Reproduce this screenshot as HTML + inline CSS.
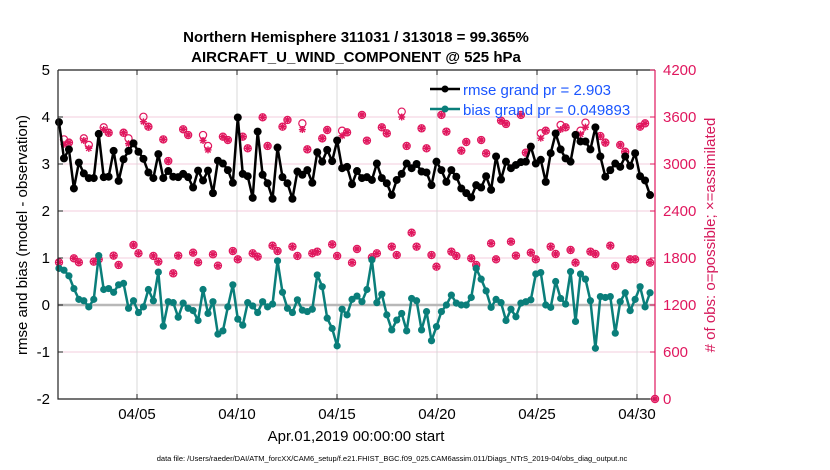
<!DOCTYPE html>
<html><head><meta charset="utf-8"><style>
body{margin:0;background:#fff;}
svg{display:block;font-family:"Liberation Sans",sans-serif;}
</style></head><body>
<svg id="chart" width="830" height="470" viewBox="0 0 830 470">
<text x="356" y="42" text-anchor="middle" font-size="15" font-weight="bold">Northern Hemisphere 311031 / 313018 = 99.365%</text>
<text x="356" y="62" text-anchor="middle" font-size="15" font-weight="bold">AIRCRAFT_U_WIND_COMPONENT @ 525 hPa</text>
<g id="grid"></g>
<g id="marks"></g>
<g id="axes"></g>
<text transform="translate(27,235) rotate(-90)" text-anchor="middle" font-size="15">rmse and bias (model - observation)</text>
<text transform="translate(715,235) rotate(-90)" text-anchor="middle" font-size="15" fill="#d6195b"># of obs: o=possible; ×=assimilated</text>
<text x="356" y="441" text-anchor="middle" font-size="15">Apr.01,2019 00:00:00 start</text>
<text x="392" y="461" text-anchor="middle" font-size="7.5">data file: /Users/raeder/DAI/ATM_forcXX/CAM6_setup/f.e21.FHIST_BGC.f09_025.CAM6assim.011/Diags_NTrS_2019-04/obs_diag_output.nc</text>
<g>
<line x1="430" y1="89" x2="460" y2="89" stroke="#000" stroke-width="2.5"/>
<circle cx="445" cy="89" r="3.5" fill="#000"/>
<text x="463" y="95" font-size="15" fill="#1a55ff">rmse grand pr = 2.903</text>
<line x1="430" y1="109" x2="460" y2="109" stroke="#0a7e7a" stroke-width="2.5"/>
<circle cx="445" cy="109" r="3.5" fill="#0a7e7a"/>
<text x="463" y="115" font-size="15" fill="#1a55ff">bias grand pr = 0.049893</text>
</g>
</svg>
<script>
const rmse=[3.89,3.12,3.31,2.48,3.03,2.80,2.70,2.70,3.64,2.72,2.73,3.28,2.64,3.10,3.28,3.44,3.26,3.11,2.82,2.70,3.21,2.70,2.85,2.73,2.72,2.79,2.72,2.50,2.86,2.65,
2.86,2.38,3.07,3.01,2.87,2.60,3.99,2.79,2.74,2.28,3.69,2.77,2.59,2.26,3.35,2.72,2.59,2.26,2.84,2.77,2.87,2.60,3.25,3.05,3.30,3.06,3.50,2.91,2.94,2.57,
2.85,2.70,2.72,2.66,3.01,2.70,2.59,2.34,2.66,2.79,3.01,2.91,3.00,2.84,2.82,2.55,3.05,2.87,2.62,2.87,2.73,2.48,2.38,2.29,2.55,2.50,2.74,2.45,3.16,2.67,
3.05,2.91,2.98,3.04,3.05,3.37,3.01,3.09,2.62,3.23,3.65,3.31,3.12,3.05,3.62,3.48,3.48,3.31,3.78,3.16,2.73,2.87,3.01,2.94,3.16,2.96,3.23,2.74,2.65,2.34];
const bias=[0.78,0.74,0.62,0.35,0.12,0.09,-0.04,0.12,1.05,0.33,0.35,0.27,0.43,0.46,-0.07,0.09,-0.16,-0.04,0.33,0.09,0.70,-0.45,0.07,0.05,-0.26,0.04,-0.07,-0.12,-0.33,0.33,
-0.18,0.07,-0.62,-0.55,-0.04,0.43,-0.30,-0.43,0.05,-0.02,-0.16,0.07,-0.04,0.02,0.94,0.27,-0.07,-0.16,0.11,-0.11,-0.14,-0.09,0.64,0.39,-0.28,-0.50,-0.87,-0.09,-0.21,0.12,
0.19,0.07,0.33,0.96,0.05,0.23,-0.21,-0.53,-0.32,-0.18,-0.55,0.14,0.09,-0.53,-0.14,-0.76,-0.46,-0.14,0,0.21,0.04,0,0,0.16,0.78,0.55,0.30,-0.05,0.12,0.05,
-0.33,-0.09,-0.25,0.04,0.07,0.11,0.66,0.69,0,-0.05,0.50,0.14,0.02,0.71,-0.35,0.66,0.55,0.09,-0.92,0.18,0.16,0.18,-0.60,0.07,0.26,-0.12,0.12,0.39,-0.04,0.26];
const obsPossible=[1745,3314,3273,1796,1745,3327,3243,1753,1783,3468,3399,1830,1711,3399,3327,1966,1860,3603,3476,1826,1753,3314,3038,1604,1830,3443,3370,1868,1745,3370,
3230,1847,1702,3349,3306,1889,1783,3349,3200,1860,1817,3596,3230,1957,1889,3476,3562,1945,1826,3519,3187,1860,1881,3327,3434,1974,1826,3425,3404,1740,
1915,3626,3298,1809,1860,3468,3391,1945,1838,3668,3230,2123,1945,3455,3200,1838,1689,3626,3413,1881,1826,3170,3281,1796,1711,3306,3136,1987,1783,3553,
3511,2008,1830,3626,3145,1868,1783,3391,3425,1945,1851,3498,3468,1902,1740,3425,3528,1881,1851,3357,3273,1957,1698,3243,3157,1783,1783,3476,3519,1740,0];
const obsAssimilated=[1745,3250,3273,1796,1745,3300,3200,1753,1783,3440,3399,1830,1711,3399,3260,1966,1860,3540,3476,1826,1753,3314,3038,1604,1830,3443,3370,1868,1745,3300,
3180,1847,1702,3349,3306,1889,1783,3349,3200,1860,1817,3596,3230,1957,1889,3476,3562,1945,1826,3440,3187,1860,1881,3327,3434,1974,1826,3360,3404,1740,
1915,3626,3298,1809,1860,3468,3391,1945,1838,3600,3230,2123,1945,3455,3200,1838,1689,3626,3413,1881,1826,3170,3281,1796,1711,3306,3136,1987,1783,3553,
3511,2008,1830,3626,3145,1868,1783,3330,3425,1945,1851,3440,3468,1902,1740,3380,3470,1881,1851,3357,3273,1957,1698,3243,3157,1783,1783,3476,3519,1740,0];
const leftTicks=[-2,-1,0,1,2,3,4,5];
const rightTicks=[0,600,1200,1800,2400,3000,3600,4200];
const dateTicks=[5,10,15,20,25,30];
const dateLabels=["04/05","04/10","04/15","04/20","04/25","04/30"];

const L=58,R=655,T=70,B=399,NS="http://www.w3.org/2000/svg";
const xs=i=>L+1+i*(596/120);
const xd=d=>137+(d-5)*20;
const yl=v=>B-(v+2)/7*(B-T);
const yr=v=>B-v/4200*(B-T);
function mk(tag,attrs,parent){const e=document.createElementNS(NS,tag);for(const k in attrs)e.setAttribute(k,attrs[k]);parent.appendChild(e);return e;}
const grid=document.getElementById('grid'),marks=document.getElementById('marks'),axes=document.getElementById('axes');
leftTicks.forEach(v=>{if(v>-2&&v<5&&v!==0){const g=mk('line',{x1:L,x2:R,y1:yl(v),y2:yl(v),stroke:'#f3cedd','stroke-width':1},grid);

}});
dateTicks.forEach(d=>{const g=mk('line',{x1:xd(d),x2:xd(d),y1:T,y2:B,stroke:'#d8d8d8','stroke-width':1},grid);

});
const z=mk('line',{x1:L,x2:R,y1:yl(0),y2:yl(0),stroke:'#b8b8b8','stroke-width':2.5},grid);


const mag='#e0175e';
obsPossible.forEach((v,i)=>{const c=mk('circle',{cx:xs(i),cy:yr(v),r:3.6,fill:'none',stroke:mag,'stroke-width':1.2},marks);

});
obsAssimilated.forEach((v,i)=>{const x=xs(i),y=yr(v);const g=mk('path',{d:`M${x-3.5} ${y}H${x+3.5}M${x} ${y-3.5}V${y+3.5}M${x-2.6} ${y-2.6}L${x+2.6} ${y+2.6}M${x-2.6} ${y+2.6}L${x+2.6} ${y-2.6}`,stroke:mag,'stroke-width':1.4},marks);

});
const rl=mk('polyline',{points:rmse.map((v,i)=>xs(i)+','+yl(v)).join(' '),fill:'none',stroke:'#000','stroke-width':2.5,'stroke-linejoin':'round'},marks);


rmse.forEach((v,i)=>{const c=mk('circle',{cx:xs(i),cy:yl(v),r:4,fill:'#000'},marks);

});
const bl=mk('polyline',{points:bias.map((v,i)=>xs(i)+','+yl(v)).join(' '),fill:'none',stroke:'#0a7e7a','stroke-width':2.5,'stroke-linejoin':'round'},marks);


bias.forEach((v,i)=>{const c=mk('circle',{cx:xs(i),cy:yl(v),r:3.6,fill:'#0a7e7a'},marks);

});
mk('path',{d:`M${L} ${T}H${R}M${L} ${T}V${B}H${R}`,stroke:'#222',fill:'none','stroke-width':1.2},axes);
mk('line',{x1:R,x2:R,y1:T,y2:B,stroke:mag,'stroke-width':1.2},axes);
leftTicks.forEach(v=>{mk('line',{x1:L,x2:L+5,y1:yl(v),y2:yl(v),stroke:'#222'},axes);
const t=mk('text',{x:L-8,y:yl(v)+5,'text-anchor':'end','font-size':15},axes);t.textContent=v;

});
rightTicks.forEach(v=>{mk('line',{x1:R-5,x2:R,y1:yr(v),y2:yr(v),stroke:mag},axes);
const t=mk('text',{x:R+8,y:yr(v)+5,'font-size':15,fill:mag},axes);t.textContent=v;

});
dateTicks.forEach((d,k)=>{const x=xd(d);mk('line',{x1:x,x2:x,y1:B,y2:B-5,stroke:'#222'},axes);mk('line',{x1:x,x2:x,y1:T,y2:T+5,stroke:'#222'},axes);
const t=mk('text',{x:x,y:B+20,'text-anchor':'middle','font-size':15},axes);t.textContent=dateLabels[k];

});
</script>
</body></html>
